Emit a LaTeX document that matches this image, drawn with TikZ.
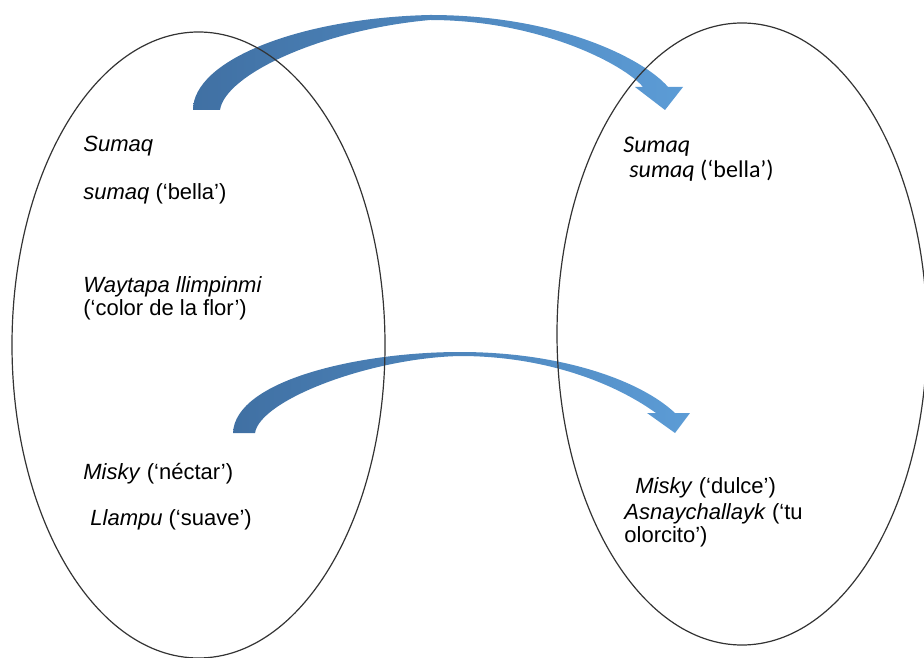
\documentclass[tikz,border=0pt]{standalone}
\usepackage{fontspec}
\setmainfont{Liberation Sans}
\newfontfamily\calibri{Carlito}
\usetikzlibrary{shapes.geometric}
\definecolor{arrowdark}{RGB}{64,112,163}
\definecolor{arrowlight}{RGB}{92,156,214}
\tikzstyle{set}=[ellipse,draw=black!80,line width=0.6pt,inner sep=0pt]
\tikzstyle{word}=[anchor=base west,inner sep=0pt,align=left,font=\fontsize{11}{11.5}\selectfont]
\tikzstyle{cword}=[word,font=\calibri\fontsize{12}{12.5}\selectfont]
\tikzstyle{bentarrow}=[left color=arrowdark,right color=arrowlight,draw=none]

\begin{document}
\begin{tikzpicture}[x=0.5pt,y=-0.5pt]
\useasboundingbox (0,0) rectangle (924,657);
\clip (0,0) rectangle (924,657);
% curved block arrows
\path[bentarrow] (193,110) .. controls (193,60) and (300,18) .. (430,15)
  .. controls (560,15) and (645,60) .. (668,87) -- (683,87) -- (665,110)
  -- (635,87) -- (643,87) .. controls (625,65) and (540,20) .. (430,20)
  .. controls (320,30) and (225,75) .. (220,110) -- cycle;
\path[bentarrow] (233,433) .. controls (235,380) and (360,352) .. (460,352)
  .. controls (560,352) and (640,380) .. (675,413) -- (690,413) -- (675,433)
  -- (647,413) -- (656,413) .. controls (610,380) and (540,356) .. (460,356)
  .. controls (370,358) and (260,400) .. (255,433) -- cycle;
% the two sets
\node[set,minimum width=186.5pt,minimum height=313pt] (L) at (198.5,345) {};
\node[set,minimum width=185pt,minimum height=311pt] (R) at (742,334) {};
% left words
\node[word] (lsumaq) at (83,152) {\itshape Sumaq};
\node[word] (lbella) at (83,200) {\textit{sumaq} (‘bella’)};
\node[word] (lflor) at (83,315) {\textit{Waytapa llimpinmi}\\(‘color de la flor’)};
\node[word] (lmisky) at (83,479) {\textit{Misky} (‘néctar’)};
\node[word] (lllampu) at (90,525) {\textit{Llampu} (‘suave’)};
% right words
\node[cword] (rsumaq) at (623,153) {\itshape Sumaq};
\node[cword] (rbella) at (629,178) {\textit{sumaq} (‘bella’)};
\node[word] (rmisky) at (635,493) {\textit{Misky} (‘dulce’)};
\node[word] (rolor) at (624,542) {\textit{Asnaychallayk} (‘tu\\olorcito’)};
\end{tikzpicture}
\end{document}
